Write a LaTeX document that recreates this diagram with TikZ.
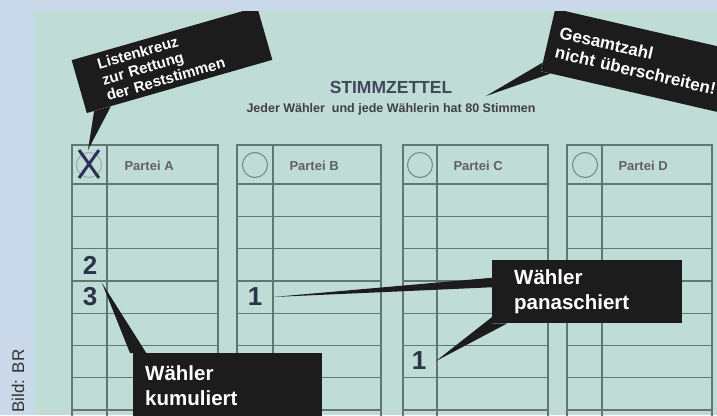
\documentclass[tikz,border=0pt]{standalone}
\usepackage{fontspec}
\setmainfont{Liberation Sans}
\usetikzlibrary{calc}

\definecolor{frame}{HTML}{C9D9E9}
\definecolor{paper}{HTML}{BFDDD6}
\definecolor{rule}{HTML}{5F7873}
\definecolor{ink}{HTML}{2B3548}
\definecolor{cross}{HTML}{2E2F58}
\definecolor{bubble}{HTML}{1C1C1C}

\begin{document}
\begin{tikzpicture}[
    x=1pt, y=-1pt,
    rulebox/.style={draw=rule, line width=1.6pt},
    rowline/.style={draw=rule, line width=1.3pt},
    vote/.style={draw=rule!85, line width=1.1pt},
    party/.style={anchor=west, font=\fontsize{13}{15}\selectfont\bfseries, text=black!62},
    digit/.style={font=\fontsize{26}{26}\selectfont\bfseries, text=ink, inner sep=0pt},
    callout/.style={fill=bubble, text=white, align=left, inner ysep=0pt, font=\fontsize{20.5}{25}\selectfont\bfseries},
    tail/.style={fill=bubble}
]
\useasboundingbox (0,0) rectangle (717,415);
\clip (0,0) rectangle (717,415);
\fill[frame] (0,0) rectangle (717,415);
\node[rotate=90, font=\fontsize{17}{17}\selectfont, text=black!80] (credit) at (18,381) {Bild: BR};

\begin{scope}
\clip (34,11) rectangle (717,415);
\fill[paper] (34,11) rectangle (717,415);

\node[font=\fontsize{17.5}{18}\selectfont\bfseries, text=ink!90] (titel) at (391,87) {STIMMZETTEL};
\node[font=\fontsize{12.5}{13}\selectfont\bfseries, text=black!75] (hinweis) at (391,109) {Jeder Wähler\ \ und jede Wählerin hat 80 Stimmen};

\draw[rulebox] (72,145) rectangle (218,430) (107,145) -- (107,430);
\draw[rulebox] (237,145) rectangle (381,430) (273,145) -- (273,430);
\draw[rulebox] (403,145) rectangle (548,430) (437,145) -- (437,430);
\draw[rulebox] (567,145) rectangle (712,430) (602,145) -- (602,430);
\foreach \y in {184,216.3,248.6,280.9,313.2,345.5,377.8,410.1}
  \draw[rowline] (72,\y) -- (218,\y) (237,\y) -- (381,\y) (403,\y) -- (548,\y) (567,\y) -- (712,\y);

\draw[vote, draw=rule!60] (89,165) circle[radius=12.5pt];
\draw[vote] (255,165) circle[radius=12.5pt];
\draw[vote] (420,165) circle[radius=12.5pt];
\draw[vote] (585,165) circle[radius=12.5pt];
\draw[cross, line width=3pt] (79,150) -- (99,178) (99,150) -- (79,178);

\node[party] (parteiA) at (121,166) {Partei A};
\node[party] (parteiB) at (286,166) {Partei B};
\node[party] (parteiC) at (450,166) {Partei C};
\node[party] (parteiD) at (615,166) {Partei D};

\node[digit] (zwei) at (90,265) {2};
\node[digit] (drei) at (90,297) {3};
\node[digit] (einsB) at (255,297) {1};
\node[digit] (einsC) at (419,361) {1};

\node[callout, rotate=16, minimum width=193pt, minimum height=55pt, text width=145pt, inner xsep=24pt, font=\fontsize{15}{16.5}\selectfont\bfseries] (liste) at (172,60) {Listenkreuz\\zur Rettung\\der Reststimmen};
\node[callout, rotate=-13, minimum width=200pt, minimum height=64pt, text width=180pt, inner xsep=10pt, font=\fontsize{17}{20}\selectfont\bfseries] (gesamt) at (645.5,62.5) {Gesamtzahl\\nicht überschreiten!};
\node[callout, anchor=north west, minimum height=63pt, text width=146pt, inner xsep=22pt] (panasch) at (492,260) {Wähler\\panaschiert};
\node[callout, anchor=north west, minimum height=64pt, text width=165pt, inner xsep=12pt] (kumul) at (133,353) {Wähler\\kumuliert};

\coordinate (kreuz) at (88,150);
\coordinate (summe) at (486,96);
\coordinate (panB) at (273,297);
\coordinate (panC) at (436,361);
\coordinate (kum) at (102,283);
\fill[tail] ($(liste.south west)!0.04!(liste.south east)$) -- (kreuz) -- ($(liste.south west)!0.13!(liste.south east)$) -- cycle;
\fill[tail] ($(gesamt.south west)!0.14!(gesamt.north west)$) -- (summe) -- ($(gesamt.south west)!0.05!(gesamt.south east)$) -- (gesamt.south west) -- cycle;
\fill[tail] ($(panasch.north west)!0.28!(panasch.south west)$) -- (panB) -- ($(panasch.north west)!0.43!(panasch.south west)$) -- cycle;
\fill[tail] ($(panasch.south west)!0.1!(panasch.north west)$) -- (panC) -- ($(panasch.south west)!0.08!(panasch.south east)$) -- (panasch.south west) -- cycle;
\fill[tail] ($(kumul.north west)+(-3,0)$) -- (kum) -- ($(kumul.north west)!0.07!(kumul.north east)$) -- cycle;
\end{scope}
\end{tikzpicture}
\end{document}
